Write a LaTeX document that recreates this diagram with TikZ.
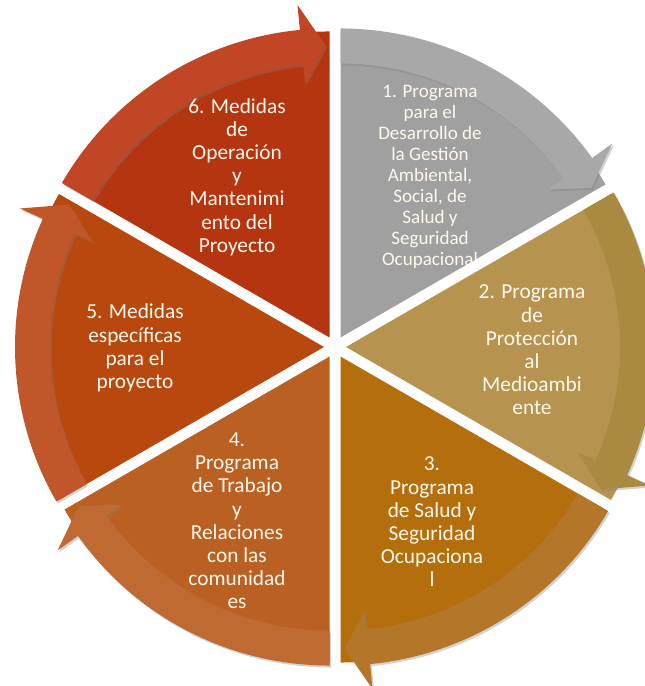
\documentclass[tikz,border=0pt]{standalone}
\usepackage{fontspec}
\setmainfont{Carlito}
\usetikzlibrary{calc,shadows}
\definecolor{wA}{RGB}{160,160,160}
\definecolor{aA}{RGB}{168,168,168}
\definecolor{wB}{RGB}{182,148,80}
\definecolor{aB}{RGB}{170,138,64}
\definecolor{wC}{RGB}{180,111,12}
\definecolor{aC}{RGB}{180,118,40}
\definecolor{wD}{RGB}{186,96,34}
\definecolor{aD}{RGB}{190,106,50}
\definecolor{wE}{RGB}{185,72,14}
\definecolor{aE}{RGB}{192,86,42}
\definecolor{wF}{RGB}{181,53,16}
\definecolor{aF}{RGB}{192,70,38}
\definecolor{txt}{RGB}{255,248,236}
\tikzset{
  arrowband/.style={drop shadow={opacity=0.35,shadow xshift=1.2pt,shadow yshift=-1.5pt}},
  segtext/.style={align=center,inner sep=0pt,text=txt,font=\fontsize{16}{17.4}\selectfont},
  segtextsmall/.style={align=center,inner sep=0pt,text=txt,font=\fontsize{14.3}{15.8}\selectfont}
}
\newcommand{\drawwedge}[3]{%
  \pgfmathsetmacro\segS{#2}%
  \pgfmathsetmacro\segE{#2-60}%
  \pgfmathsetmacro\segB{#2-30}%
  \coordinate (#1c) at ($(C)+(\segB:11)$);
  \fill[#3] (#1c) -- ($(#1c)+(\segS:306)$) arc[start angle=\segS,end angle=\segE,radius=306] -- cycle;
}
\newcommand{\drawarrow}[3]{%
  \pgfmathsetmacro\segS{#2}%
  \pgfmathsetmacro\segH{#2-60+5.5}%
  \pgfmathsetmacro\segT{#2-60+0.8}%
  \fill[#3,arrowband] ($(#1c)+(\segS:309)$) arc[start angle=\segS,end angle=\segH,radius=309]
    -- ($(#1c)+(\segH:334)$) -- ($(#1c)+(\segT:292)$) -- ($(#1c)+(\segH:255)$)
    -- ($(#1c)+(\segH:274)$) arc[start angle=\segH,end angle=\segS,radius=274] -- cycle;
}
\begin{document}
\begin{tikzpicture}[x=0.75pt,y=0.75pt]
\useasboundingbox (0,0) rectangle (644,686);
\fill[white] (0,0) rectangle (644,686);
\coordinate (C) at (335,339);
\drawwedge{s1}{90}{wA}
\drawwedge{s2}{30}{wB}
\drawwedge{s3}{-30}{wC}
\drawwedge{s4}{-90}{wD}
\drawwedge{s5}{-150}{wE}
\drawwedge{s6}{150}{wF}
\drawarrow{s1}{90}{aA}
\drawarrow{s2}{30}{aB}
\drawarrow{s3}{-30}{aC}
\drawarrow{s4}{-90}{aD}
\drawarrow{s5}{-150}{aE}
\drawarrow{s6}{150}{aF}
\node[segtextsmall] (t1) at (430,509) {1. Programa\\para el\\Desarrollo de\\la Gestión\\Ambiental,\\Social, de\\Salud y\\Seguridad\\Ocupacional};
\node[segtext] (t2) at (532,336) {2. Programa\\de\\Protección\\al\\Medioambi\\ente};
\node[segtext] (t3) at (432,164) {3.\\Programa\\de Salud y\\Seguridad\\Ocupaciona\\l};
\node[segtext] (t4) at (237,165) {4.\\Programa\\de Trabajo\\y\\Relaciones\\con las\\comunidad\\es};
\node[segtext] (t5) at (135,338) {5. Medidas\\específicas\\para el\\proyecto};
\node[segtext] (t6) at (237,509) {6. Medidas\\de\\Operación\\y\\Mantenimi\\ento del\\Proyecto};
\end{tikzpicture}
\end{document}
